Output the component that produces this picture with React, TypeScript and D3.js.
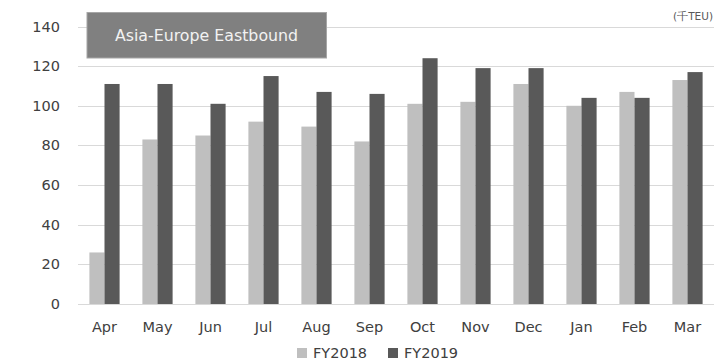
import React from "react";
import * as d3 from "d3";

// Monthly liftings, thousand TEU
const months = ["Apr", "May", "Jun", "Jul", "Aug", "Sep", "Oct", "Nov", "Dec", "Jan", "Feb", "Mar"];
const fy2018 = [26, 83, 85, 92, 89.5, 82, 101, 102, 111, 100, 107, 113];
const fy2019 = [111, 111, 101, 115, 107, 106, 124, 119, 119, 104, 104, 117];
const seriesNames = ["FY2018", "FY2019"];
const seriesColors = ["#bfbfbf", "#595959"];
const yTicks = [0, 20, 40, 60, 80, 100, 120, 140];
const chartTitle = "Asia-Europe Eastbound";
const unitLabel = "(千TEU)";

const W = 728;
const H = 363;
const plot = { left: 78, right: 714, top: 26.5, bottom: 304 };
const font = "'DejaVu Sans', Verdana, sans-serif";

export default function App() {
  const y = d3.scaleLinear().domain([0, 140]).range([plot.bottom, plot.top]);
  const x0 = d3
    .scaleBand<string>()
    .domain(months)
    .range([plot.left, plot.right])
    .paddingInner(0.43)
    .paddingOuter(0.215);
  const x1 = d3.scaleBand<string>().domain(seriesNames).range([0, x0.bandwidth()]);
  const series = [fy2018, fy2019];

  return (
    <svg
      width={W}
      height={H}
      viewBox={`0 0 ${W} ${H}`}
      style={{ position: "absolute", left: 0, top: 0, background: "#fff" }}
    >
      {/* gridlines */}
      {yTicks.map((t) => (
        <line
          key={t}
          x1={plot.left}
          x2={plot.right}
          y1={Math.round(y(t)) + 0.5}
          y2={Math.round(y(t)) + 0.5}
          stroke="#d9d9d9"
          strokeWidth={1}
        />
      ))}
      {/* y tick labels */}
      {yTicks.map((t) => (
        <text
          key={"l" + t}
          x={60}
          y={y(t) + 5}
          textAnchor="end"
          fontFamily={font}
          fontSize={14.5}
          fill="#404040"
        >
          {t}
        </text>
      ))}
      {/* bars */}
      {months.map((m, i) => (
        <g key={m} transform={`translate(${x0(m)},0)`}>
          {seriesNames.map((s, j) => (
            <rect
              key={s}
              x={x1(s)}
              y={y(series[j][i])}
              width={x1.bandwidth()}
              height={plot.bottom - y(series[j][i])}
              fill={seriesColors[j]}
            />
          ))}
        </g>
      ))}
      {/* x labels */}
      {months.map((m) => (
        <text
          key={"x" + m}
          x={(x0(m) as number) + x0.bandwidth() / 2}
          y={332}
          textAnchor="middle"
          fontFamily={font}
          fontSize={14.5}
          fill="#404040"
        >
          {m}
        </text>
      ))}
      {/* title box */}
      <rect x={87} y={12.5} width={239.5} height={45.5} fill="#808080" stroke="#a6a6a6" strokeWidth={1} />
      <text
        x={206.5}
        y={40.5}
        textAnchor="middle"
        fontFamily={font}
        fontSize={15.8}
        fill="#f2f2f2"
      >
        {chartTitle}
      </text>
      {/* unit */}
      <text x={713} y={20} textAnchor="end" fontFamily={font} fontSize={10.5} fill="#595959">
        {unitLabel}
      </text>
      {/* legend */}
      {seriesNames.map((s, j) => {
        const lx = [297, 388][j];
        return (
          <g key={"lg" + s}>
            <rect x={lx} y={348} width={10} height={10} fill={seriesColors[j]} />
            <text x={lx + 16} y={357.5} fontFamily={font} fontSize={14.5} fill="#404040">
              {s}
            </text>
          </g>
        );
      })}
    </svg>
  );
}
